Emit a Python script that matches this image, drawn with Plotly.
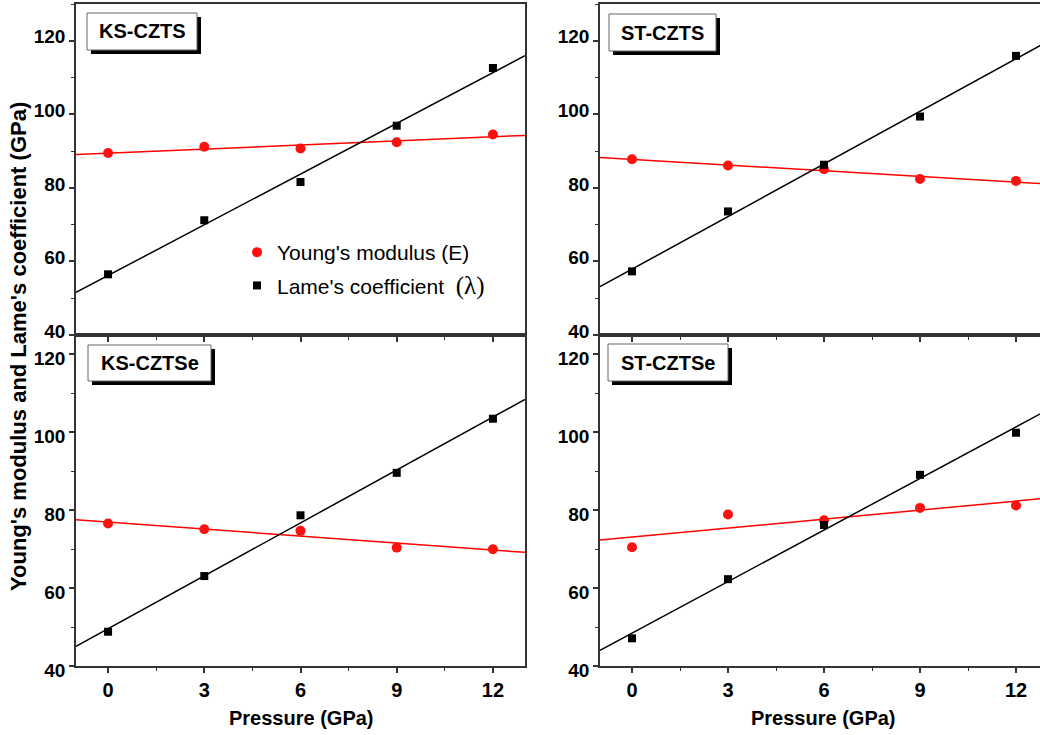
import numpy as np
import plotly.graph_objects as go

# ---------------- data ----------------
pressure = [0, 3, 6, 9, 12]

ks_czts_E = [89.5, 91.2, 90.7, 92.4, 94.5]
ks_czts_L = [56.5, 71.2, 81.6, 96.9, 112.6]

st_czts_E = [87.8, 86.1, 85.1, 82.4, 81.9]
st_czts_L = [57.3, 73.6, 86.3, 99.4, 115.9]

ks_cztse_E = [76.6, 75.1, 74.7, 70.4, 70.0]
ks_cztse_L = [48.8, 63.1, 78.7, 89.6, 103.5]

st_cztse_E = [70.5, 78.9, 77.4, 80.6, 81.2]
st_cztse_L = [47.1, 62.3, 76.2, 89.1, 99.9]

panel_names = ["KS-CZTS", "ST-CZTS", "KS-CZTSe", "ST-CZTSe"]
x_tick_vals = [0, 3, 6, 9, 12]
y_tick_vals = [40, 60, 80, 100, 120]

legend_E = "Young's modulus (E)"
legend_L = 'Lame\'s coefficient  <span style="font-family:Liberation Serif,Times New Roman,serif;font-size:25px">(λ)</span>'
x_title = "Pressure (GPa)"
y_title = "Young's modulus and Lame's coefficient (GPa)"

# ---------------- layout geometry ----------------
W, H = 1040, 735
L, R, T, B = 76, 0, 4, 69
PW = W - L - R
PH = H - T - B


def px(x):
    return (x - L) / PW


def py(y):
    return (H - B - y) / PH


FONT = "Liberation Sans, Arial, sans-serif"
AX = "#333333"

panels = [
    dict(name=panel_names[0], E=ks_czts_E, Lm=ks_czts_L, n="", xdom=[px(76), px(525)],
         ydom=[py(335), py(4)], xr=[-1, 13], yr=[40, 130], box=(87, 13, 197, 50),
         bottom=False, right=True, legend=True, shift=-4),
    dict(name=panel_names[1], E=st_czts_E, Lm=st_czts_L, n="2", xdom=[px(600), 1.0],
         ydom=[py(335), py(4)], xr=[-1, 12.75], yr=[40, 130], box=(609, 14, 716, 51),
         bottom=False, right=False, legend=False, shift=-4),
    dict(name=panel_names[2], E=ks_cztse_E, Lm=ks_cztse_L, n="3", xdom=[px(76), px(525)],
         ydom=[0.0, py(335)], xr=[-1, 13], yr=[40, 125], box=(88, 345, 211, 381),
         bottom=True, right=True, legend=False, shift=4),
    dict(name=panel_names[3], E=st_cztse_E, Lm=st_cztse_L, n="4", xdom=[px(600), 1.0],
         ydom=[0.0, py(335)], xr=[-1, 12.75], yr=[40, 125], box=(608, 344, 728, 381),
         bottom=True, right=False, legend=False, shift=4),
]

fig = go.Figure()
shapes = []
annotations = []
layout_axes = {}

for p in panels:
    xa = "x" + p["n"]
    ya = "y" + p["n"]
    xfit = np.array([-1.0, 13.0])
    cE = np.polyfit(pressure, p["E"], 1)
    cL = np.polyfit(pressure, p["Lm"], 1)

    fig.add_trace(go.Scatter(x=xfit, y=np.polyval(cE, xfit), mode="lines",
                             line=dict(color="#ff0000", width=1.5), showlegend=False,
                             xaxis=xa, yaxis=ya, hoverinfo="skip"))
    fig.add_trace(go.Scatter(x=pressure, y=p["E"], mode="markers", name=legend_E,
                             marker=dict(symbol="circle", size=10, color="#ff1010",
                                         line=dict(width=0)),
                             showlegend=p["legend"], legendgroup="E" if p["legend"] else None,
                             xaxis=xa, yaxis=ya))
    fig.add_trace(go.Scatter(x=xfit, y=np.polyval(cL, xfit), mode="lines",
                             line=dict(color="black", width=1.5), showlegend=False,
                             xaxis=xa, yaxis=ya, hoverinfo="skip"))
    fig.add_trace(go.Scatter(x=pressure, y=p["Lm"], mode="markers", name=legend_L,
                             marker=dict(symbol="square", size=8, color="black",
                                         line=dict(width=0)),
                             showlegend=p["legend"], legendgroup="L" if p["legend"] else None,
                             xaxis=xa, yaxis=ya))

    xkey = "xaxis" + p["n"]
    ykey = "yaxis" + p["n"]
    layout_axes[xkey] = dict(
        domain=p["xdom"], anchor=ya, range=p["xr"], tickvals=x_tick_vals,
        showticklabels=p["bottom"], ticks="outside", ticklen=5, tickwidth=1.5,
        tickcolor=AX, showline=True, linecolor=AX, linewidth=1.5, mirror=True,
        showgrid=False, zeroline=False,
        tickfont=dict(family=FONT, size=20, color="black", weight="bold"),
        minor=dict(ticks="outside", ticklen=3, tickwidth=1.2, tickcolor=AX, dtick=1.5,
                   tick0=0, showgrid=False),
    )
    layout_axes[ykey] = dict(
        domain=p["ydom"], anchor=xa, range=p["yr"], tickvals=y_tick_vals,
        ticks="outside", ticklen=5, tickwidth=1.5, tickcolor=AX,
        showline=True, linecolor=AX, linewidth=1.5, mirror=p["right"],
        showgrid=False, zeroline=False, ticklabelshift=p["shift"],
        tickfont=dict(family=FONT, size=19, color="black", weight="bold"),
        minor=dict(ticks="outside", ticklen=3, tickwidth=1.2, tickcolor=AX, dtick=10,
                   tick0=40, showgrid=False),
    )

    # label box with shadow
    x0, y0, x1, y1 = p["box"]
    shapes.append(dict(type="rect", xref="paper", yref="paper",
                       x0=px(x0 + 4), x1=px(x1 + 4), y0=py(y1 + 4), y1=py(y0 + 4),
                       fillcolor="black", line=dict(width=0), layer="above"))
    shapes.append(dict(type="rect", xref="paper", yref="paper",
                       x0=px(x0), x1=px(x1), y0=py(y1), y1=py(y0),
                       fillcolor="white", line=dict(color="#666666", width=1), layer="above"))
    annotations.append(dict(text=p["name"], xref="paper", yref="paper",
                            x=px((x0 + x1) / 2), y=py((y0 + y1) / 2),
                            xanchor="center", yanchor="middle", showarrow=False,
                            font=dict(family=FONT, size=20, color="black", weight="bold")))

# axis titles
annotations.append(dict(text=x_title, xref="paper", yref="paper", x=px(301), y=py(718),
                        xanchor="center", yanchor="middle", showarrow=False,
                        font=dict(family=FONT, size=20, color="black", weight="bold")))
annotations.append(dict(text=x_title, xref="paper", yref="paper", x=px(823), y=py(718),
                        xanchor="center", yanchor="middle", showarrow=False,
                        font=dict(family=FONT, size=20, color="black", weight="bold")))
annotations.append(dict(text=y_title, xref="paper", yref="paper", x=px(18), y=py(347),
                        xanchor="center", yanchor="middle", showarrow=False, textangle=-90,
                        font=dict(family=FONT, size=22, color="black", weight="bold")))

fig.update_layout(
    width=W, height=H, margin=dict(l=L, r=R, t=T, b=B, autoexpand=False),
    paper_bgcolor="white", plot_bgcolor="white",
    showlegend=True,
    legend=dict(x=px(237), y=py(232), xanchor="left", yanchor="top",
                bgcolor="rgba(0,0,0,0)", borderwidth=0, traceorder="grouped",
                tracegroupgap=3, font=dict(family=FONT, size=21, color="black")),
    shapes=shapes, annotations=annotations,
    **layout_axes,
)

fig.write_html("out.html")
